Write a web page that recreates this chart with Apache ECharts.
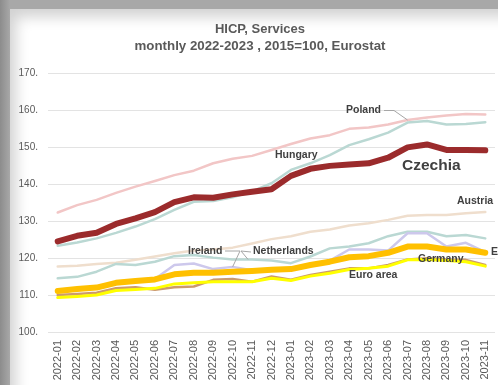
<!DOCTYPE html>
<html>
<head>
<meta charset="utf-8">
<script src="https://cdn.jsdelivr.net/npm/echarts@6/dist/echarts.min.js"></script>
<style>
  html, body { margin: 0; padding: 0; width: 498px; height: 385px; overflow: hidden; }
  #frame { position: absolute; left: 0; top: 0; width: 498px; height: 385px;
           background: linear-gradient(90deg, #8c8c8c 0px, #a8a8a8 10px, #a8a8a8 100%); }
  #paper { position: absolute; left: 10px; top: 9px; width: 500px; height: 390px; background: #fff;
           box-shadow: inset 6px 8px 14px rgba(0,0,0,0.18); }
  #chart { position: absolute; left: 0; top: 0; width: 498px; height: 385px; }
</style>
</head>
<body>
<div id="frame"></div>
<div id="paper"></div>
<div id="chart"></div>
<script>
// Monthly HICP services index, 2015 = 100
const months = ['2022-01','2022-02','2022-03','2022-04','2022-05','2022-06','2022-07','2022-08','2022-09','2022-10','2022-11','2022-12',
                '2023-01','2023-02','2023-03','2023-04','2023-05','2023-06','2023-07','2023-08','2023-09','2023-10','2023-11'];

const poland      = [132.3,134.3,135.7,137.6,139.3,140.8,142.4,143.6,145.6,146.8,147.6,149.2,150.8,152.3,153.2,154.9,155.3,156.1,157.3,158.0,158.5,158.9,158.8];
const austria     = [117.7,117.9,118.4,118.7,119.5,120.4,121.3,122.0,122.3,122.8,123.9,125.1,125.9,127.1,127.7,128.8,129.4,130.3,131.4,131.6,131.6,132.1,132.4];
const hungary     = [123.3,124.2,125.3,126.8,128.5,130.5,133.0,135.2,135.4,136.4,138.0,140.2,143.8,145.6,147.8,150.5,152.1,153.9,156.6,157.0,156.1,156.2,156.7];
const netherlands = [114.5,114.9,116.3,118.4,118.1,119.0,120.5,120.8,120.1,119.6,119.6,119.3,118.6,120.4,122.6,123.1,124.0,125.9,127.1,127.1,125.9,126.2,125.3];
const ireland     = [111.3,111.8,112.2,113.5,113.9,114.3,118.1,118.5,117.0,117.6,116.7,117.0,117.2,118.4,119.3,122.3,122.3,122.0,126.7,126.7,123.1,124.1,121.6];
const germany     = [110.0,110.3,110.6,111.8,112.1,111.4,112.1,112.3,114.1,114.3,113.6,115.0,114.1,115.4,116.3,117.2,117.2,118.1,119.6,119.9,119.6,119.5,118.1];
const euroArea    = [109.3,109.6,110.0,111.2,111.5,111.8,113.0,113.3,113.6,113.6,113.6,114.5,113.9,115.1,115.9,116.9,117.2,117.8,119.5,119.6,119.3,119.0,117.8];
const eu          = [111.1,111.6,112.0,113.3,113.8,114.2,115.6,116.0,116.0,116.3,116.5,116.8,117.0,118.1,119.0,120.2,120.5,121.4,123.1,123.1,122.3,122.3,121.4];
const czechia     = [124.5,126.0,126.8,129.2,130.7,132.4,135.1,136.4,136.3,137.2,137.9,138.6,142.2,144.1,144.9,145.3,145.6,147.1,149.9,150.7,149.2,149.2,149.1];

const yTicks = { min: 100, max: 170, step: 10 };

function line(name, data, color, width, z) {
  return {
    name: name, type: 'line', data: data, z: z,
    symbol: 'none', smooth: false,
    lineStyle: { color: color, width: width, cap: 'round', join: 'round' },
    emphasis: { disabled: true }
  };
}

const chart = echarts.init(document.getElementById('chart'), null, { renderer: 'canvas' });

chart.setOption({
  animation: false,
  backgroundColor: 'transparent',
  grid: { left: 48, right: 3, top: 73, bottom: 53, containLabel: false },
  xAxis: {
    type: 'category', data: months, boundaryGap: true,
    axisLine: { show: false }, axisTick: { show: false },
    axisLabel: { rotate: 90, fontSize: 11, color: '#595959', margin: 8, fontFamily: 'Liberation Sans', interval: 0 }
  },
  yAxis: {
    type: 'value', min: yTicks.min, max: yTicks.max, interval: yTicks.step,
    axisLine: { show: false }, axisTick: { show: false },
    axisLabel: { fontSize: 10, color: '#595959', margin: 10, fontFamily: 'Liberation Sans',
                 formatter: v => v + '.' },
    splitLine: { lineStyle: { color: '#e3e3e3', width: 1 } }
  },
  series: [
    line('Poland', poland, '#f2c6c6', 2.5, 1),
    line('Austria', austria, '#efdecd', 2.5, 1),
    line('Hungary', hungary, '#bad8d3', 2.5, 2),
    line('Netherlands', netherlands, '#bad8d3', 2.5, 2),
    line('Ireland', ireland, '#cdc8ec', 2.5, 2),
    line('Germany', germany, '#cc9a6c', 2.5, 3),
    line('Euro area', euroArea, '#ffff00', 3, 3),
    line('EU', eu, '#ffc000', 6, 4),
    line('Czechia', czechia, '#9b2b2c', 6, 5)
  ]
});

// Titles and series name annotations with short leader lines
const heading = (text, y, size) => ({
  type: 'text', x: 260, y: y, z: 10,
  style: { text: text, fontFamily: 'Liberation Sans', fontWeight: 'bold', fontSize: size,
           fill: '#595959', align: 'center', verticalAlign: 'middle' }
});
const txt = (text, x, y, size) => ({
  type: 'text', left: x, top: y, z: 10,
  style: { text: text, fontFamily: 'Liberation Sans', fontWeight: 'bold', fontSize: size || 10.5, fill: '#404040' }
});
const px = (i, v) => chart.convertToPixel({ gridIndex: 0 }, [i, v]);
const pPoland = px(18, poland[18]);
const pIreland = px(9, ireland[9]);
const pNeth = px(10, netherlands[10]);
const lead = pts => ({ type: 'polyline', z: 9, shape: { points: pts }, style: { stroke: '#a6a6a6', lineWidth: 1, fill: null } });

chart.setOption({
  graphic: [
    heading('HICP, Services', 29, 13),
    heading('monthly 2022-2023 , 2015=100, Eurostat', 46.5, 13.3),
    txt('Poland', 346, 105),
    lead([[384, 110.5], [394, 110.5], pPoland]),
    txt('Hungary', 275, 150),
    txt('Czechia', 402, 158, 15.5),
    txt('Austria', 457, 196),
    txt('Ireland', 188, 246),
    lead([[225, 251], [240, 251], pIreland]),
    txt('Netherlands', 253, 246),
    lead([[251, 252], [241, 251], [pNeth[0] - 4, pNeth[1]]]),
    txt('Germany', 418, 254),
    txt('Euro area', 349, 270),
    txt('EU', 491, 247)
  ]
});
</script>
</body>
</html>
